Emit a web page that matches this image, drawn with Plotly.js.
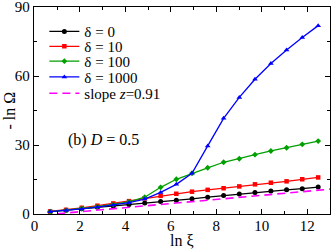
<!DOCTYPE html>
<html><head><meta charset="utf-8">
<script src="https://cdn.plot.ly/plotly-3.0.1.min.js"></script>
<style>html,body{margin:0;padding:0;background:#fff}#c{width:332px;height:249px}</style>
</head><body><div id="c"></div>
<script>
const lnXi = [0.69,1.39,2.08,2.77,3.47,4.16,4.85,5.55,6.24,6.93,7.62,8.32,9.01,9.70,10.40,11.09,11.78,12.48];
const d0    = [1.0,1.6,2.3,2.9,3.5,4.1,4.8,5.4,6.0,6.6,7.3,8.0,8.7,9.3,10.0,10.5,11.0,11.7];
const d10   = [1.1,1.8,2.7,3.6,4.6,5.6,6.8,7.9,8.8,9.7,10.5,11.2,12.0,12.9,13.6,14.2,15.1,15.9];
const d100  = [1.0,1.6,2.4,3.2,4.1,5.3,7.3,11.6,15.1,17.7,20.1,22.5,24.0,25.8,27.4,28.8,30.3,31.7];
const d1000 = [1.0,1.5,2.2,3.0,3.9,4.9,6.5,9.4,12.9,17.7,29.6,41.6,50.7,58.6,65.4,71.3,76.7,81.9];
const slopeX = [1.0, 13.0];
const slopeY = [0.1, 10.8];
const names = ['δ = 0','δ = 10','δ = 100','δ = 1000','slope <i>z</i>=0.91'];
const xTicks = [0,2,4,6,8,10,12];
const yTicks = [0,30,60,90];

const F = 'Liberation Serif, Times New Roman, serif';
const legKeys = ['legend','legend2','legend3','legend4','legend5'];
function tr(y, i, color, sym, sz){
  return {x: lnXi, y: y, name: names[i], legend: legKeys[i], mode: 'lines+markers', type: 'scatter', cliponaxis: false,
    line: {color: color, width: 1.3}, marker: {color: color, symbol: sym, size: sz}};
}
const data = [
  tr(d0, 0, '#000000', 'circle', 5),
  tr(d10, 1, '#ff0000', 'square', 4.5),
  tr(d100, 2, '#00a000', 'diamond', 4.5),
  tr(d1000, 3, '#0000ff', 'triangle-up', 5),
  {x: slopeX, y: slopeY, name: names[4], legend: legKeys[4], mode: 'lines', type: 'scatter',
   line: {color: '#ff00ff', width: 1.6, dash: '8px,5px'}}
];
const ax = {showgrid: false, zeroline: false, showline: true, linecolor: '#000', linewidth: 1.3,
  mirror: 'ticks', ticks: 'inside', ticklen: 5, tickwidth: 1, tickcolor: '#000',
  automargin: false, autorange: false, fixedrange: true, ticklabeloverflow: 'allow',
  tickfont: {family: F, size: 15, color: '#000'}};
const legRowY = [0.881, 0.809, 0.737, 0.661, 0.582];
const layout = {
  width: 332, height: 249,
  margin: {l: 34, r: 2, t: 7, b: 35, autoexpand: false},
  paper_bgcolor: '#fff', plot_bgcolor: '#fff',
  font: {family: F, color: '#000'},
  showlegend: true,
  xaxis: Object.assign({}, ax, {range: [-0.02, 13], tickvals: xTicks, ticklabelstandoff: -2,
    minor: {tickvals: [1,3,5,7,9,11], ticklen: 3, ticks: 'inside', tickcolor: '#000'}}),
  yaxis: Object.assign({}, ax, {range: [0, 90], tickvals: yTicks,
    minor: {tickvals: [15,45,75], ticklen: 3, ticks: 'inside', tickcolor: '#000'}}),
  annotations: [
    {xref: 'x', yref: 'y', x: 1.4, y: 32, xanchor: 'left', yanchor: 'middle',
     text: '(b) <i>D</i> = 0.5', showarrow: false, font: {family: F, size: 16, color: '#000'}},
    {xref: 'paper', yref: 'paper', x: 0, y: 0.5, xanchor: 'center', yanchor: 'middle', xshift: -25,
     textangle: -90, text: '- ln Ω', showarrow: false, font: {family: F, size: 16, color: '#000'}},
    {xref: 'paper', yref: 'paper', x: 0.5, y: 0, xanchor: 'center', yanchor: 'middle', yshift: -26.5,
     text: 'ln ξ', showarrow: false, font: {family: F, size: 16, color: '#000'}}
  ]
};
legKeys.forEach((k, i) => {
  layout[k] = {x: 0.035, y: legRowY[i], xanchor: 'left', yanchor: 'middle', bgcolor: 'rgba(0,0,0,0)',
    font: {family: F, size: 15}, itemwidth: 30, borderwidth: 0};
});
Plotly.newPlot('c', data, layout, {displayModeBar: false, staticPlot: true});
</script></body></html>
